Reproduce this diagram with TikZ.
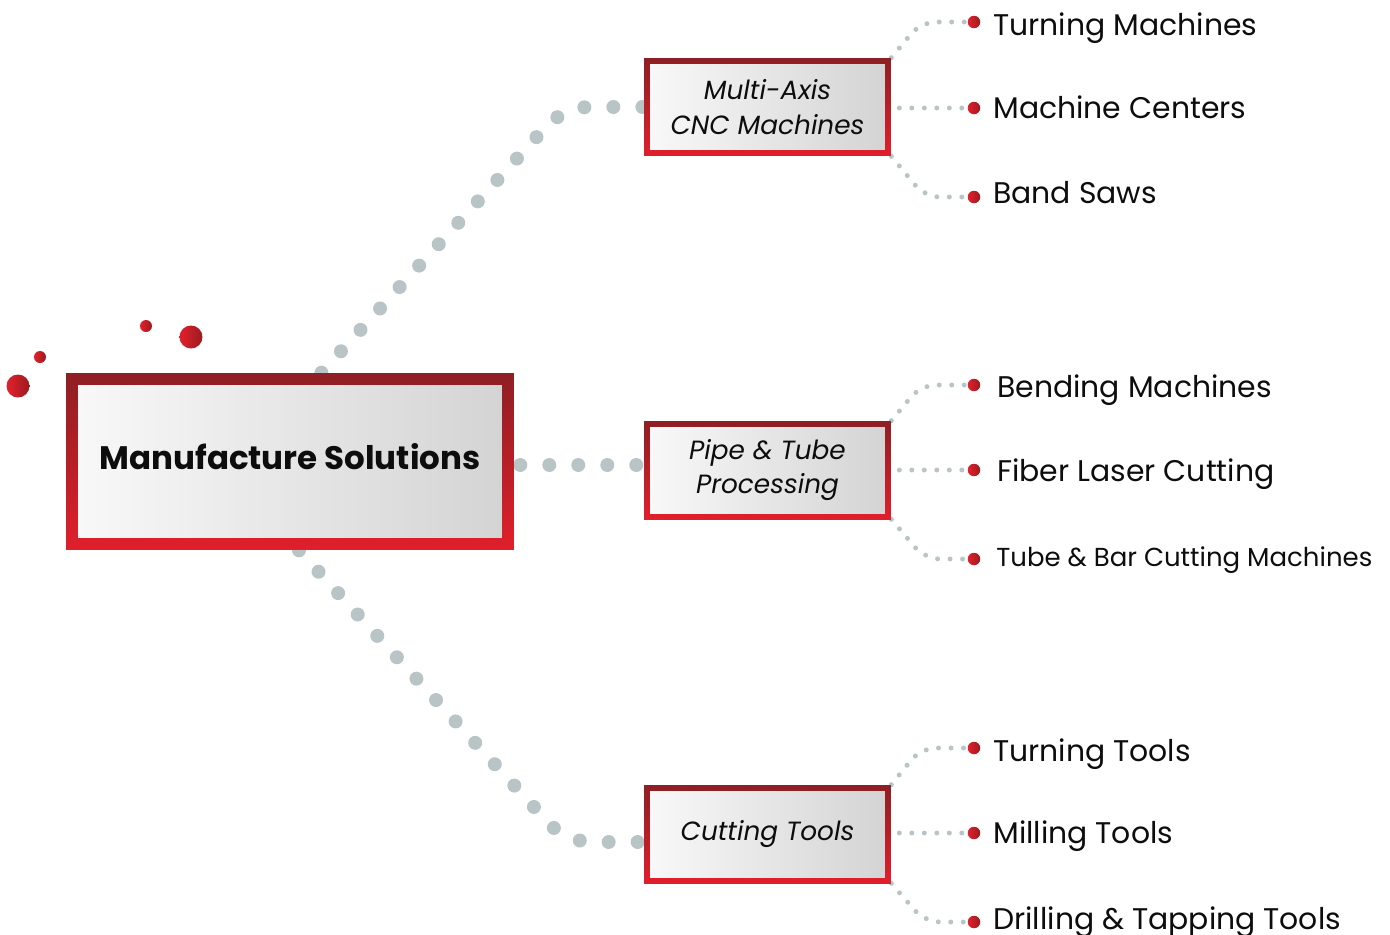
\documentclass[tikz,border=0pt]{standalone}
\usepackage{fontspec}
\setmainfont{Poppins}
\usetikzlibrary{backgrounds,positioning,calc}

\definecolor{boxdark}{HTML}{8E1F24}
\definecolor{boxred}{HTML}{E01F2B}
\definecolor{fillleft}{HTML}{F9F9F9}
\definecolor{fillright}{HTML}{D3D3D3}
\definecolor{dotgray}{HTML}{B9C4C6}
\definecolor{ballred}{HTML}{E3202C}
\definecolor{balldark}{HTML}{9A1B21}
\definecolor{textblack}{HTML}{0D0D0D}

\begin{document}
\begin{tikzpicture}[x=0.02cm, y=-0.02cm,
    rimbox/.style={rectangle, inner sep=0pt, align=center, text=textblack,
                   top color=boxdark, bottom color=boxred,
                   path picture={\shade[left color=fillleft, right color=fillright]
                     ([shift={(#1,-#1)}]path picture bounding box.north west) rectangle
                     ([shift={(-#1,#1)}]path picture bounding box.south east);}},
    mainbox/.style={rimbox=0.24cm, minimum width=8.96cm, minimum height=3.54cm,
                    text height=0.3cm, text depth=0cm,
                    font=\fontsize{18.5}{22}\selectfont\bfseries},
    subbox/.style={rimbox=0.12cm, minimum width=4.94cm, minimum height=1.96cm,
                   font=\fontsize{15}{19.8}\selectfont\itshape},
    bigdots/.style={draw=dotgray, line width=0.28cm, line cap=round,
                    dash pattern=on 0pt off 0.58cm, rounded corners=0.5cm},
    smalldots/.style={draw=dotgray, line width=0.1cm, line cap=round,
                      dash pattern=on 0pt off 0.25cm, rounded corners=0.3cm},
    leafdot/.style={circle, inner sep=0pt, minimum size=0.25cm,
                    left color=ballred, right color=balldark},
    leaf/.style={anchor=base west, inner sep=0pt, text=textblack,
                 font=\fontsize{17}{20}\selectfont},
    ball/.style={circle, inner sep=0pt, minimum size=#1,
                 left color=ballred, right color=balldark},
  ]
\useasboundingbox (0,0) rectangle (1390,934);

% decoration
\node[ball=0.46cm] (b1) at (18,386) {};
\node[ball=0.24cm] (b2) at (40,357) {};
\node[ball=0.24cm] (b3) at (146,326) {};
\node[ball=0.46cm] (b4) at (191,337) {};

% boxes
\node[mainbox] (main) at (290,461.5) {Manufacture Solutions};
\node[subbox] (cnc) at (767.5,107) {Multi-Axis\\CNC Machines};
\node[subbox] (pipe) at (767.5,470) {Pipe \& Tube\\Processing};
\node[subbox] (cut) at (767.5,834) {Cutting Tools};

\coordinate (maintop) at ($(main.north west)!0.57!(main.north east)$);
\coordinate (mainbot) at ($(main.south west)!0.52!(main.south east)$);
\coordinate (pipein) at ([yshift=0.1cm]pipe.west);
\coordinate (cutin) at ([yshift=-0.16cm]cut.west);

% leaves
\node[leafdot] (d1) at (974,22) {};
\node[leafdot] (d2) at (974,108) {};
\node[leafdot] (d3) at (974,197) {};
\node[leafdot] (d4) at (974,385) {};
\node[leafdot] (d5) at (974,470) {};
\node[leafdot] (d6) at (974,559) {};
\node[leafdot] (d7) at (974,748) {};
\node[leafdot] (d8) at (974,833) {};
\node[leafdot] (d9) at (974,922) {};

\node[leaf] (l1) at (993,35) {Turning Machines};
\node[leaf] (l2) at (993,118) {Machine Centers};
\node[leaf] (l3) at (993,203) {Band Saws};
\node[leaf] (l4) at (997,397) {Bending Machines};
\node[leaf] (l5) at (997,481) {Fiber Laser Cutting};
\node[leaf, font=\fontsize{14.8}{17}\selectfont] (l6) at (996,566) {Tube \& Bar Cutting Machines};
\node[leaf] (l7) at (993,761) {Turning Tools};
\node[leaf] (l8) at (993,843) {Milling Tools};
\node[leaf] (l9) at (993,929) {Drilling \& Tapping Tools};

\begin{scope}[on background layer]
  \draw[bigdots] (maintop) -- (564,107) -- (cnc.west);
  \draw[bigdots] ([xshift=0.12cm]main.east |- pipein) -- (pipein);
  \draw[bigdots] (mainbot) -- (566,842) -- (cutin);

  \draw[smalldots] (cnc.north east) -- (921,22) -- (d1);
  \draw[smalldots] ([xshift=0.16cm]cnc.east |- d2) -- (d2);
  \draw[smalldots] (cnc.south east) -- (925,197) -- (d3);

  \draw[smalldots] (pipe.north east) -- (921,385) -- (d4);
  \draw[smalldots] ([xshift=0.16cm]pipe.east |- d5) -- (d5);
  \draw[smalldots] (pipe.south east) -- (925,559) -- (d6);

  \draw[smalldots] (cut.north east) -- (921,748) -- (d7);
  \draw[smalldots] ([xshift=0.16cm]cut.east |- d8) -- (d8);
  \draw[smalldots] (cut.south east) -- (925,922) -- (d9);
\end{scope}
\end{tikzpicture}
\end{document}
